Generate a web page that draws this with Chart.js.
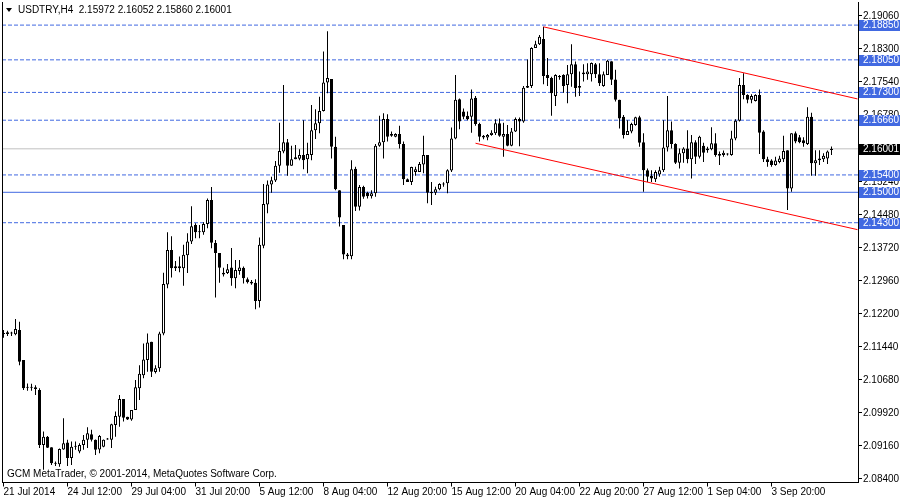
<!DOCTYPE html>
<html lang="en">
<head>
<meta charset="UTF-8">
<title>USDTRY,H4</title>
<script src="https://cdn.jsdelivr.net/npm/chart.js"></script>
<style>
  html, body { margin: 0; padding: 0; background: #fff; }
</style>
</head>
<body>
<canvas id="chart" width="900" height="500"></canvas>
<script>
  // H4 candles, 21 Jul 2014 20:00 .. 5 Sep 2014, one entry per bar
  const open = [
    2.1174, 2.1174, 2.1175, 2.1173, 2.1183, 2.1114, 2.1051, 2.1050, 2.1051, 2.1045, 2.0918, 2.0937, 2.0913, 2.0876, 2.0874, 2.0908,
    2.0924, 2.0888, 2.0914, 2.0903, 2.0918, 2.0930, 2.0943, 2.0930, 2.0908, 2.0914, 2.0931, 2.0930, 2.0964, 2.0983, 2.1024, 2.0983,
    2.0977, 2.0999, 2.1049, 2.1079, 2.1114, 2.1156, 2.1086, 2.1095, 2.1175, 2.1288, 2.1367, 2.1325, 2.1330, 2.1325, 2.1355, 2.1387,
    2.1425, 2.1408, 2.1408, 2.1427, 2.1482, 2.1383, 2.1360, 2.1315, 2.1314, 2.1327, 2.1302, 2.1319, 2.1326, 2.1300, 2.1294, 2.1292,
    2.1250, 2.1377, 2.1472, 2.1518, 2.1527, 2.1561, 2.1594, 2.1615, 2.1561, 2.1576, 2.1577, 2.1586, 2.1576, 2.1586, 2.1643, 2.1659,
    2.1687, 2.1753, 2.1761, 2.1605, 2.1505, 2.1425, 2.1357, 2.1353, 2.1554, 2.1467, 2.1512, 2.1499, 2.1491, 2.1498, 2.1607, 2.1615,
    2.1669, 2.1634, 2.1628, 2.1634, 2.1611, 2.1530, 2.1524, 2.1547, 2.1547, 2.1564, 2.1586, 2.1501, 2.1499, 2.1507, 2.1518, 2.1521,
    2.1550, 2.1624, 2.1714, 2.1686, 2.1676, 2.1674, 2.1718, 2.1657, 2.1630, 2.1626, 2.1632, 2.1636, 2.1659, 2.1628, 2.1634, 2.1607,
    2.1640, 2.1669, 2.1663, 2.1741, 2.1745, 2.1832, 2.1841, 2.1853, 2.1770, 2.1763, 2.1722, 2.1768, 2.1770, 2.1747, 2.1772, 2.1795,
    2.1745, 2.1772, 2.1772, 2.1772, 2.1795, 2.1772, 2.1745, 2.1770, 2.1802, 2.1760, 2.1713, 2.1674, 2.1632, 2.1640, 2.1655, 2.1673,
    2.1615, 2.1551, 2.1538, 2.1530, 2.1541, 2.1551, 2.1603, 2.1643, 2.1611, 2.1568, 2.1590, 2.1601, 2.1576, 2.1615, 2.1582, 2.1607,
    2.1601, 2.1599, 2.1613, 2.1588, 2.1586, 2.1587, 2.1586, 2.1624, 2.1665, 2.1747, 2.1724, 2.1713, 2.1710, 2.1724, 2.1640, 2.1576,
    2.1573, 2.1563, 2.1570, 2.1576, 2.1597, 2.1509, 2.1636, 2.1627, 2.1620, 2.1611, 2.1674, 2.1567, 2.1578, 2.1576, 2.1578, 2.15972
  ];
  const high = [
    2.1183, 2.1181, 2.1179, 2.1208, 2.1202, 2.1114, 2.1060, 2.1059, 2.1056, 2.1049, 2.0949, 2.0939, 2.0913, 2.0880, 2.0910, 2.0980,
    2.0930, 2.0926, 2.0926, 2.0922, 2.0941, 2.0959, 2.0953, 2.0931, 2.0941, 2.0931, 2.0934, 2.0967, 2.0995, 2.1033, 2.1024, 2.0983,
    2.0999, 2.1068, 2.1102, 2.1152, 2.1175, 2.1156, 2.1102, 2.1179, 2.1315, 2.1408, 2.1399, 2.1342, 2.1352, 2.1379, 2.1406, 2.1468,
    2.1429, 2.1425, 2.1431, 2.1486, 2.1512, 2.1390, 2.1360, 2.1326, 2.1335, 2.1372, 2.1344, 2.1344, 2.1329, 2.1304, 2.1298, 2.1300,
    2.1396, 2.1519, 2.1527, 2.1536, 2.1572, 2.1660, 2.1747, 2.1623, 2.1607, 2.1609, 2.1599, 2.1666, 2.1614, 2.1701, 2.1691, 2.1720,
    2.1824, 2.1871, 2.1761, 2.1628, 2.1505, 2.1425, 2.1360, 2.1574, 2.1559, 2.1517, 2.1515, 2.1501, 2.1505, 2.1611, 2.1676, 2.1682,
    2.1680, 2.1640, 2.1636, 2.1653, 2.1617, 2.1532, 2.1559, 2.1559, 2.1570, 2.1630, 2.1586, 2.1524, 2.1513, 2.1521, 2.1523, 2.1553,
    2.1649, 2.1770, 2.1716, 2.1693, 2.1686, 2.1737, 2.1722, 2.1660, 2.1632, 2.1634, 2.1643, 2.1668, 2.1670, 2.1660, 2.1655, 2.1648,
    2.1672, 2.1672, 2.1745, 2.1806, 2.1834, 2.1849, 2.1862, 2.1881, 2.1809, 2.1766, 2.1772, 2.1770, 2.1772, 2.1793, 2.1841, 2.1801,
    2.1778, 2.1795, 2.1797, 2.1799, 2.1798, 2.1797, 2.1778, 2.1805, 2.1802, 2.1782, 2.1713, 2.1678, 2.1666, 2.1660, 2.1674, 2.1676,
    2.1636, 2.1555, 2.1551, 2.1551, 2.1559, 2.1666, 2.1722, 2.1663, 2.1613, 2.1601, 2.1604, 2.1643, 2.1632, 2.1620, 2.1630, 2.1614,
    2.1605, 2.1650, 2.1636, 2.1594, 2.1596, 2.1590, 2.1642, 2.1668, 2.1763, 2.1774, 2.1726, 2.1726, 2.1726, 2.1737, 2.1643, 2.1582,
    2.1576, 2.1582, 2.1584, 2.1630, 2.1597, 2.1636, 2.1640, 2.1632, 2.1627, 2.1696, 2.1683, 2.1597, 2.1597, 2.1590, 2.1596, 2.16052
  ];
  const low = [
    2.1165, 2.1169, 2.1169, 2.1171, 2.1102, 2.1045, 2.1043, 2.1043, 2.1033, 2.0911, 2.0861, 2.0911, 2.0872, 2.0870, 2.0868, 2.0907,
    2.0870, 2.0872, 2.0907, 2.0899, 2.0907, 2.0911, 2.0926, 2.0895, 2.0899, 2.0913, 2.0930, 2.0911, 2.0937, 2.0960, 2.0972, 2.0976,
    2.0974, 2.0999, 2.1022, 2.1072, 2.1087, 2.1075, 2.1083, 2.1087, 2.1171, 2.1279, 2.1304, 2.1319, 2.1316, 2.1285, 2.1314, 2.1381,
    2.1394, 2.1394, 2.1402, 2.1417, 2.1371, 2.1258, 2.1292, 2.1306, 2.1312, 2.1285, 2.1279, 2.1310, 2.1290, 2.1290, 2.1287, 2.1231,
    2.1235, 2.1371, 2.1452, 2.1499, 2.1524, 2.1545, 2.1590, 2.1538, 2.1561, 2.1576, 2.1574, 2.1553, 2.1544, 2.1574, 2.1623, 2.1636,
    2.1686, 2.1728, 2.1578, 2.1505, 2.1421, 2.1346, 2.1346, 2.1346, 2.1457, 2.1458, 2.1485, 2.1486, 2.1486, 2.1490, 2.1605, 2.1578,
    2.1617, 2.1628, 2.1627, 2.1601, 2.1517, 2.1524, 2.1517, 2.1538, 2.1547, 2.1544, 2.1475, 2.1471, 2.1494, 2.1505, 2.1513, 2.1498,
    2.1547, 2.1622, 2.1645, 2.1668, 2.1666, 2.1637, 2.1653, 2.1617, 2.1622, 2.1620, 2.1630, 2.1632, 2.1628, 2.1582, 2.1606, 2.1606,
    2.1639, 2.1606, 2.1660, 2.1740, 2.1740, 2.1832, 2.1839, 2.1749, 2.1745, 2.1676, 2.1699, 2.1759, 2.1729, 2.1705, 2.1743, 2.1720,
    2.1722, 2.1755, 2.1759, 2.1755, 2.1763, 2.1745, 2.1743, 2.1770, 2.1747, 2.1709, 2.1647, 2.1624, 2.1632, 2.1636, 2.1653, 2.1605,
    2.1501, 2.1524, 2.1524, 2.1524, 2.1536, 2.1547, 2.1594, 2.1601, 2.1565, 2.1555, 2.1568, 2.1567, 2.1532, 2.1565, 2.1578, 2.1570,
    2.1591, 2.1597, 2.1582, 2.1563, 2.1582, 2.1585, 2.1584, 2.1620, 2.1663, 2.1714, 2.1705, 2.1705, 2.1709, 2.1588, 2.1570, 2.1559,
    2.1559, 2.1561, 2.1567, 2.1570, 2.1459, 2.1501, 2.1613, 2.1613, 2.1605, 2.1609, 2.1538, 2.1538, 2.1563, 2.1570, 2.1565, 2.15860
  ];
  const close = [
    2.1176, 2.1178, 2.1176, 2.1185, 2.1110, 2.1049, 2.1050, 2.1051, 2.1047, 2.0918, 2.0937, 2.0912, 2.0876, 2.0875, 2.0909, 2.0922,
    2.0888, 2.0914, 2.0915, 2.0918, 2.0930, 2.0945, 2.0930, 2.0907, 2.0939, 2.0930, 2.0931, 2.0966, 2.0985, 2.1024, 2.0981, 2.0977,
    2.0999, 2.1051, 2.1082, 2.1115, 2.1154, 2.1087, 2.1095, 2.1175, 2.1289, 2.1367, 2.1325, 2.1330, 2.1325, 2.1356, 2.1387, 2.1422,
    2.1408, 2.1408, 2.1427, 2.1482, 2.1384, 2.1360, 2.1326, 2.1311, 2.1323, 2.1302, 2.1321, 2.1327, 2.1302, 2.1293, 2.1290, 2.1250,
    2.1379, 2.1473, 2.1518, 2.1528, 2.1561, 2.1595, 2.1615, 2.1561, 2.1576, 2.1581, 2.1586, 2.1574, 2.1588, 2.1643, 2.1659, 2.1687,
    2.1753, 2.1763, 2.1605, 2.1507, 2.1442, 2.1357, 2.1353, 2.1553, 2.1467, 2.1512, 2.1490, 2.1491, 2.1498, 2.1607, 2.1615, 2.1669,
    2.1628, 2.1630, 2.1634, 2.1611, 2.1530, 2.1524, 2.1558, 2.1553, 2.1565, 2.1586, 2.1499, 2.1498, 2.1507, 2.1519, 2.1518, 2.1551,
    2.1624, 2.1713, 2.1663, 2.1674, 2.1668, 2.1716, 2.1657, 2.1628, 2.1626, 2.1632, 2.1637, 2.1659, 2.1630, 2.1634, 2.1607, 2.1640,
    2.1669, 2.1663, 2.1741, 2.1745, 2.1832, 2.1841, 2.1858, 2.1768, 2.1763, 2.1728, 2.1770, 2.1765, 2.1745, 2.1772, 2.1795, 2.1740,
    2.1741, 2.1776, 2.1778, 2.1798, 2.1772, 2.1751, 2.1772, 2.1803, 2.1759, 2.1713, 2.1670, 2.1632, 2.1641, 2.1657, 2.1673, 2.1614,
    2.1551, 2.1536, 2.1532, 2.1547, 2.1551, 2.1603, 2.1643, 2.1611, 2.1568, 2.1590, 2.1601, 2.1576, 2.1615, 2.1582, 2.1628, 2.1591,
    2.1597, 2.1613, 2.1586, 2.1584, 2.1591, 2.1587, 2.1624, 2.1665, 2.1747, 2.1724, 2.1713, 2.1722, 2.1724, 2.1637, 2.1576, 2.1570,
    2.1563, 2.1573, 2.1578, 2.1595, 2.1509, 2.1636, 2.1617, 2.1615, 2.1613, 2.1674, 2.1567, 2.1574, 2.1574, 2.1584, 2.1594, 2.16001
  ];

  // axis labels
  const xTickIdx = [0, 16, 32, 48, 64, 80, 96, 112, 128, 144, 160, 176, 192];
  const xTickLabels = ['21 Jul 2014', '24 Jul 12:00', '29 Jul 04:00', '31 Jul 20:00', '5 Aug 12:00', '8 Aug 04:00',
    '12 Aug 20:00', '15 Aug 12:00', '20 Aug 04:00', '22 Aug 20:00', '27 Aug 12:00', '1 Sep 04:00', '3 Sep 20:00'];
  const yTicks = [2.19060, 2.18300, 2.17540, 2.16780, 2.16000, 2.15240, 2.14480, 2.13720,
    2.12960, 2.12200, 2.11440, 2.10680, 2.09920, 2.09160, 2.08400];

  // drawn objects
  const dashedLevels = [2.18850, 2.18050, 2.17300, 2.16660, 2.15400, 2.14300];
  const solidLevels = [2.15000];
  const bidPrice = 2.16001;
  const upperTrend = [[135, 2.1881], [213.5, 2.1715]];
  const lowerTrend = [[118, 2.1613], [213.5, 2.1414]];

  const X_MIN = -0.375, X_MAX = 213.625;
  const Y_MIN = 2.08318, Y_MAX = 2.19382;
  const FONT = '10px "Liberation Sans", Arial, sans-serif';
  const BLUE = '#4169e1';

  const hLine = (lvl, color, dash, order) => ({
    type: 'line',
    data: [{ x: X_MIN, y: lvl }, { x: X_MAX, y: lvl }],
    borderColor: color, borderWidth: 1, borderDash: dash,
    pointRadius: 0, order: order
  });
  const trend = pts => ({
    type: 'line',
    data: pts.map(p => ({ x: p[0], y: p[1] })),
    borderColor: '#ff0000', borderWidth: 1, pointRadius: 0, order: -1
  });

  const overlay = {
    id: 'overlay',
    beforeDatasetsDraw(chart) {
      const ctx = chart.ctx;
      ctx.save();
      ctx.font = FONT;
      ctx.fillStyle = '#000';
      ctx.textBaseline = 'middle';
      ctx.fillText('GCM MetaTrader, \u00a9 2001-2014, MetaQuotes Software Corp.', 7, 474);
      ctx.restore();
    },
    afterDraw(chart) {
      const { ctx, chartArea: a, scales: { y } } = chart;
      ctx.save();
      // left frame
      ctx.strokeStyle = '#000';
      ctx.lineWidth = 1;
      ctx.beginPath();
      ctx.moveTo(a.left + 0.5, a.top);
      ctx.lineTo(a.left + 0.5, a.bottom);
      ctx.stroke();

      // price tags on the axis
      ctx.font = FONT;
      ctx.textBaseline = 'middle';
      const tag = (lvl, bg) => {
        const py = Math.round(y.getPixelForValue(lvl));
        ctx.fillStyle = bg;
        ctx.fillRect(a.right + 1, py - 5, chart.width - a.right - 1, 11);
        ctx.fillStyle = '#fff';
        ctx.fillText(lvl.toFixed(5), a.right + 5, py + 0.5);
      };
      dashedLevels.concat(solidLevels).forEach(l => tag(l, BLUE));
      tag(bidPrice, '#000');

      // title
      ctx.fillStyle = '#000';
      ctx.beginPath();
      ctx.moveTo(6, 8); ctx.lineTo(12, 8); ctx.lineTo(9, 12); ctx.closePath();
      ctx.fill();
      ctx.fillText('USDTRY,H4  ' + [open, high, low, close].map(s => s[s.length - 1].toFixed(5)).join(' '), 18, 10);
      ctx.restore();
    }
  };

  new Chart(document.getElementById('chart'), {
    type: 'bar',
    data: {
      datasets: [
        trend(upperTrend),
        trend(lowerTrend),
        {
          type: 'bar',
          data: open.map((o, i) => ({ x: i, y: [o, close[i]] })),
          backgroundColor: open.map((o, i) => close[i] >= o ? '#ffffff' : '#000000'),
          borderColor: '#000', borderWidth: 1, borderSkipped: false,
          barThickness: 3, minBarLength: 1, grouped: false, inflateAmount: 0, order: 1
        },
        {
          type: 'bar',
          data: low.map((l, i) => ({ x: i, y: [l, high[i]] })),
          backgroundColor: '#000', borderWidth: 0,
          barThickness: 1, minBarLength: 1, grouped: false, inflateAmount: 0, order: 2
        },
        ...dashedLevels.map(l => hLine(l, BLUE, [4, 2], 3)),
        ...solidLevels.map(l => hLine(l, BLUE, [], 3)),
        hLine(bidPrice, '#c0c0c0', [], 4)
      ]
    },
    options: {
      responsive: false,
      animation: false,
      events: [],
      layout: { padding: { left: 2, top: 2, right: 0, bottom: 0 } },
      plugins: { legend: { display: false }, tooltip: { enabled: false } },
      scales: {
        x: {
          type: 'linear', min: X_MIN, max: X_MAX, offset: false,
          grid: { drawOnChartArea: false, offset: false, color: '#000', tickLength: 4 },
          border: { color: '#000' },
          afterBuildTicks: s => { s.ticks = xTickIdx.map(v => ({ value: v })); },
          afterFit: s => { s.height = 17.5; s.paddingLeft = 0; s.paddingRight = 0; },
          ticks: {
            align: 'start', padding: 0, maxRotation: 0, autoSkip: false, color: '#000',
            font: { family: '"Liberation Sans", Arial, sans-serif', size: 10 },
            callback: (v, i) => xTickLabels[i]
          }
        },
        y: {
          type: 'linear', position: 'right', min: Y_MIN, max: Y_MAX, beginAtZero: false,
          grid: { drawOnChartArea: false, color: '#000', tickLength: 4 },
          border: { color: '#000' },
          afterBuildTicks: s => { s.ticks = yTicks.map(v => ({ value: v })); },
          afterFit: s => { s.width = 42; s.paddingTop = 0; s.paddingBottom = 0; },
          ticks: {
            padding: 1, autoSkip: false, color: '#000',
            font: { family: '"Liberation Sans", Arial, sans-serif', size: 10 },
            callback: v => v.toFixed(5)
          }
        }
      }
    },
    plugins: [overlay]
  });
</script>
</body>
</html>
